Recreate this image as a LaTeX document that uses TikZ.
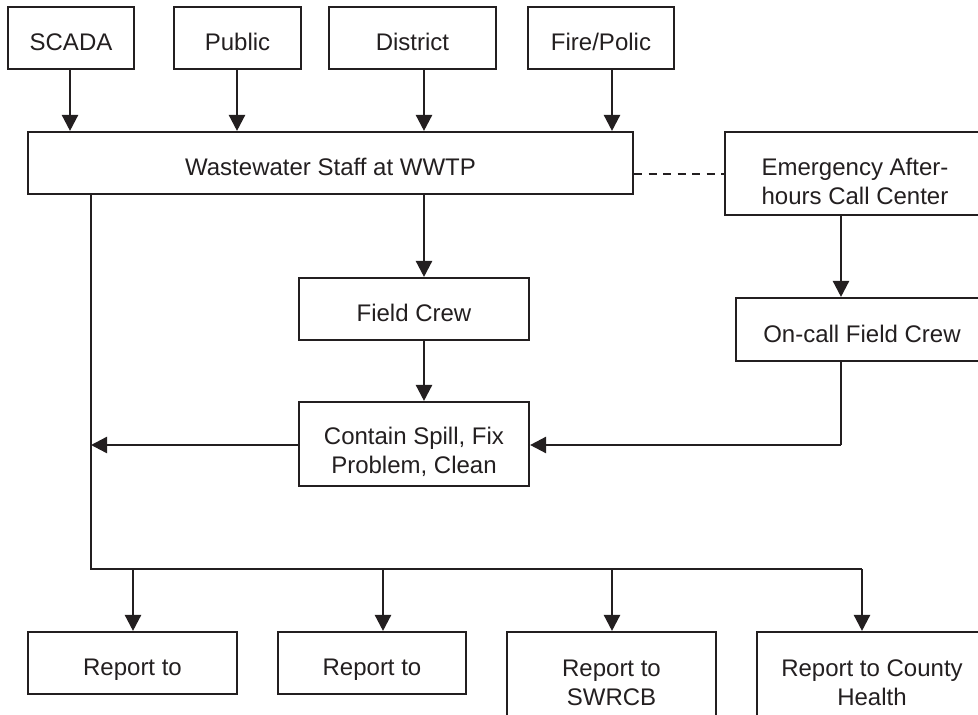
\documentclass[tikz,border=0pt]{standalone}
\usepackage{fontspec}
\setmainfont{Liberation Sans}
\usetikzlibrary{arrows.meta}
\definecolor{ink}{HTML}{231F20}
% text lowered: #1 = baseline of first line below node centre
\newcommand{\tx}[2]{\raisebox{-#1}[0pt][0pt]{\begin{tabular}[t]{@{}c@{}}#2\end{tabular}}}
\begin{document}
\begin{tikzpicture}[x=1pt,y=-1pt,
  box/.style={draw=ink,line width=2.1pt,fill=white,text=ink,inner sep=0pt,
    font=\fontsize{24}{29}\selectfont},
  arr/.style={draw=ink,line width=2.4pt,-{Triangle[width=16pt,length=16pt]}},
  ln/.style={draw=ink,line width=2.1pt},
  dsh/.style={draw=ink,line width=2pt,dash pattern=on 8pt off 6.5pt}]
\useasboundingbox (0,0) rectangle (978,715);
\begin{scope}
\clip (0,0) rectangle (978,715);
% top sources
\node[box,minimum width=126pt,minimum height=62pt] (scada) at (71,38) {\tx{12.5pt}{SCADA}};
\node[box,minimum width=127pt,minimum height=62pt] (public) at (237.5,38) {\tx{12.5pt}{Public}};
\node[box,minimum width=167pt,minimum height=62pt] (district) at (412.5,38) {\tx{12.5pt}{District}};
\node[box,minimum width=146pt,minimum height=62pt] (fire) at (601,38) {\tx{12.5pt}{Fire/Polic}};
% main
\node[box,minimum width=605pt,minimum height=62pt] (wwtp) at (330.5,163) {\tx{12.5pt}{Wastewater Staff at WWTP}};
\node[box,minimum width=260pt,minimum height=83pt] (emerg) at (855,173.5) {\tx{2pt}{Emergency After-\\hours Call Center}};
\node[box,minimum width=230pt,minimum height=62pt] (fc) at (414,309) {\tx{12.5pt}{Field Crew}};
\node[box,minimum width=230pt,minimum height=84pt] (contain) at (414,444) {\tx{0pt}{Contain Spill, Fix\\Problem, Clean}};
\node[box,minimum width=252pt,minimum height=63pt] (oncall) at (862,329.5) {\tx{12.5pt}{On-call Field Crew}};
% reports
\node[box,minimum width=209pt,minimum height=62pt] (r1) at (132.5,663) {\tx{12.5pt}{Report to}};
\node[box,minimum width=188pt,minimum height=62pt] (r2) at (372,663) {\tx{12.5pt}{Report to}};
\node[box,minimum width=209pt,minimum height=102pt] (r3) at (611.5,683) {\tx{-7pt}{Report to\\SWRCB}};
\node[box,minimum width=230pt,minimum height=102pt] (r4) at (872,683) {\tx{-7pt}{Report to County\\Health}};
% columns
\coordinate (cA) at (70,0);
\coordinate (cB) at (237,0);
\coordinate (cC) at (424,0);
\coordinate (cD) at (612,0);
\coordinate (cE) at (841,0);
\coordinate (trunk) at (91,0);
\coordinate (bus) at (91,569);
\coordinate (d1) at (133,569);
\coordinate (d2) at (383,569);
\coordinate (d3) at (612,569);
\coordinate (d4) at (862,569);
\coordinate (bend) at (841,445);
% arrows into WWTP
\draw[arr] (scada.south -| cA) -- (wwtp.north -| cA);
\draw[arr] (public.south -| cB) -- (wwtp.north -| cB);
\draw[arr] (district.south -| cC) -- (wwtp.north -| cC);
\draw[arr] (fire.south -| cD) -- (wwtp.north -| cD);
% dashed link
\draw[dsh] (wwtp.east |- emerg.west) -- (emerg.west);
% field path
\draw[arr] (wwtp.south -| cC) -- (fc.north -| cC);
\draw[arr] (fc.south -| cC) -- (contain.north -| cC);
\draw[arr] (emerg.south -| cE) -- (oncall.north -| cE);
\draw[ln] (oncall.south -| cE) -- (bend);
\draw[arr] (bend) -- (contain.east |- bend);
\draw[arr] (contain.west |- bend) -- (trunk |- bend);
% trunk and bus
\draw[ln] (wwtp.south -| trunk) -- (bus) -- (d4);
\draw[arr] (d1) -- (r1.north -| d1);
\draw[arr] (d2) -- (r2.north -| d2);
\draw[arr] (d3) -- (r3.north -| d3);
\draw[arr] (d4) -- (r4.north -| d4);
\end{scope}
\end{tikzpicture}
\end{document}
